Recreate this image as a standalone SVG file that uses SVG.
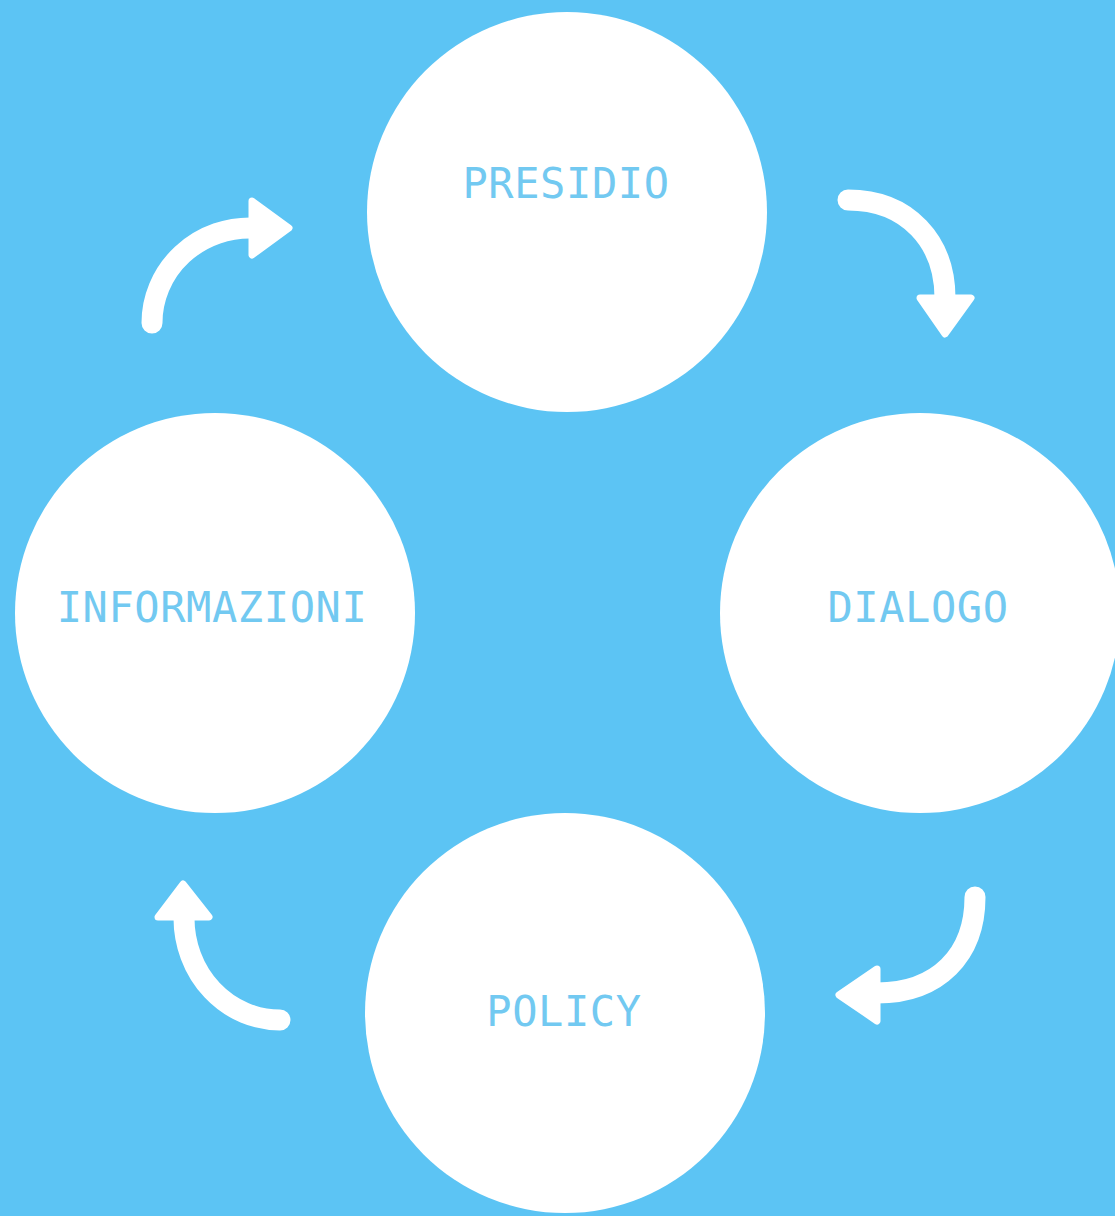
<svg xmlns="http://www.w3.org/2000/svg" width="1115" height="1216" viewBox="0 0 1115 1216">
<style>
.node{fill:#ffffff}
.lbl{font-family:"DejaVu Sans Mono","Liberation Mono",monospace;font-size:42px;fill:#72c9f1;text-anchor:middle;letter-spacing:0.6px}
.shaft{fill:none;stroke:#ffffff;stroke-width:21;stroke-linecap:round}
.head{fill:#ffffff;stroke:#ffffff;stroke-width:7;stroke-linejoin:round}
</style>
<rect x="0" y="0" width="1115" height="1216" fill="#5cc4f4"/>
<g id="presidio"><circle class="node" cx="567" cy="212" r="200"/><text class="lbl" x="566" y="198">PRESIDIO</text></g>
<g id="dialogo"><circle class="node" cx="920" cy="613" r="200"/><text class="lbl" x="918" y="622">DIALOGO</text></g>
<g id="policy"><circle class="node" cx="565" cy="1013" r="200"/><text class="lbl" x="564" y="1026">POLICY</text></g>
<g id="informazioni"><circle class="node" cx="215" cy="613" r="200"/><text class="lbl" x="212" y="622">INFORMAZIONI</text></g>
<g id="connectors">
<path class="shaft" d="M152,323 A98,95 0 0 1 254,228"/>
<polygon class="head" points="252,201 289,228 252,255"/>
<path class="shaft" d="M848,200 C908,200 945,242 945,298"/>
<polygon class="head" points="920,298 945,334 971,298"/>
<path class="shaft" d="M975,897 C975,955 938,993 877,993"/>
<polygon class="head" points="877,969 839,995 877,1021"/>
<path class="shaft" d="M184,918 A96,102 0 0 0 280,1020"/>
<polygon class="head" points="158,917 183,884 209,917"/>
</g>
</svg>
